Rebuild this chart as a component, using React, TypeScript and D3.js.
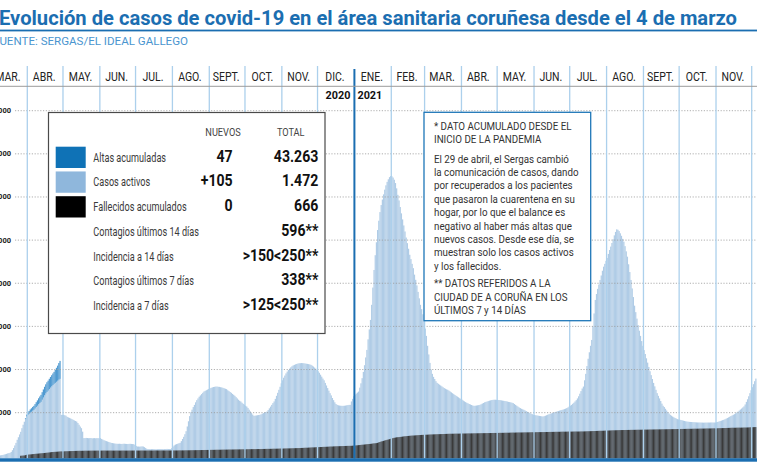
import React from 'react';
import * as d3 from 'd3';

const W = 757;
const H = 463;
const START = Date.UTC(2020, 2, 4); // 4 de marzo de 2020

// Casos activos diarios (desde el 4 de marzo de 2020)
const activos = [
  0,0,2,4,6,10,15,20,28,36,
  45,55,62,69,90,130,180,240,300,371,
  430,495,556,640,720,790,850,910,950,975,
  1000,1020,1045,1065,1095,1130,1160,1195,1225,1251,
  1300,1350,1400,1445,1480,1510,1545,1580,1610,1640,
  1668,1690,1715,1740,1765,1783,950,945,950,940,
  930,903,890,880,865,850,835,820,808,794,
  760,720,678,640,560,410,410,415,412,408,
  410,412,405,408,410,406,410,408,405,410,
  390,375,360,350,340,331,320,310,300,295,
  290,285,280,278,278,280,276,275,278,280,
  277,275,274,276,278,275,272,270,250,230,
  215,215,212,215,218,215,200,180,160,155,
  152,150,155,158,155,150,148,152,155,158,
  155,152,150,155,158,160,158,155,155,180,
  215,240,260,270,280,290,301,340,390,440,
  500,570,680,800,920,1010,1070,1130,1180,1240,
  1290,1330,1370,1400,1430,1460,1489,1505,1520,1535,
  1550,1565,1575,1585,1595,1600,1605,1605,1600,1598,
  1590,1585,1575,1565,1555,1545,1520,1500,1480,1460,
  1435,1413,1390,1360,1330,1300,1275,1258,1230,1205,
  1185,1160,1142,1110,1070,1030,990,955,926,930,
  935,940,945,950,960,975,990,1005,1015,1026,
  1060,1100,1140,1180,1221,1260,1320,1390,1460,1530,
  1600,1680,1750,1810,1860,1910,1952,1990,2020,2050,
  2075,2095,2108,2120,2130,2138,2145,2147,2150,2148,
  2145,2140,2135,2131,2125,2118,2108,2090,2070,2045,
  2020,1992,1960,1925,1880,1835,1790,1750,1690,1630,
  1570,1510,1452,1400,1340,1290,1240,1200,1181,1170,
  1165,1160,1158,1158,1160,1165,1170,1175,1180,1181,
  1260,1320,1380,1413,1440,1465,1489,1580,1680,1800,
  1945,2100,2280,2455,2700,2930,3150,3500,3900,4308,
  4650,4950,5234,5450,5650,5813,5940,6060,6170,6270,
  6350,6410,6460,6485,6480,6450,6400,6323,6200,6050,
  5920,5767,5620,5480,5340,5200,5060,4930,4800,4660,
  4560,4450,4350,4200,4080,3950,3800,3650,3500,3400,
  3280,3120,2950,2780,2550,2350,2154,2000,1900,1830,
  1780,1730,1691,1670,1650,1630,1610,1590,1570,1555,
  1540,1529,1510,1490,1470,1450,1430,1410,1390,1373,
  1355,1335,1318,1300,1280,1262,1245,1228,1215,1200,
  1190,1178,1165,1158,1160,1165,1170,1175,1181,1195,
  1210,1225,1240,1250,1258,1268,1278,1285,1292,1297,
  1300,1300,1298,1295,1292,1290,1285,1280,1275,1270,
  1265,1258,1250,1245,1238,1230,1221,1200,1180,1160,
  1140,1120,1105,1090,1078,1065,1050,1035,1020,1005,
  990,978,965,950,945,940,935,930,925,920,
  915,910,918,928,940,952,962,972,982,993,
  1003,1012,1020,1030,1040,1048,1056,1064,1072,1082,
  1093,1105,1120,1140,1160,1180,1205,1230,1260,1290,
  1330,1380,1440,1500,1560,1605,1750,1900,2080,2250,
  2400,2550,2686,3000,3300,3613,3750,3870,3970,4076,
  4180,4290,4384,4450,4520,4586,4680,4770,4850,4933,
  5020,5110,5190,5250,5240,5210,5158,5100,5030,4963,
  4860,4740,4616,4440,4260,4076,3880,3680,3480,3330,
  3180,3030,2900,2780,2660,2550,2450,2360,2260,2160,
  2060,1960,1870,1780,1690,1610,1530,1452,1390,1330,
  1270,1210,1160,1130,1090,1050,1010,980,950,930,
  910,893,878,864,850,843,836,829,822,815,
  808,800,794,790,787,785,783,781,779,777,
  775,773,772,771,770,770,769,769,770,770,
  771,771,772,772,771,771,771,778,786,795,
  805,815,825,834,846,860,875,890,905,920,
  935,950,965,985,1005,1025,1048,1072,1095,1120,
  1145,1190,1250,1310,1380,1452,1520,1590,1660,1730,
  1790,
];

// Fallecidos acumulados
const fallecidos = [
  0,0,0,0,0,0,0,0,0,0,
  0,0,0,0,0,0,0,0,0,0,
  0,0,1,3,5,9,15,23,26,29,
  32,35,38,41,44,47,50,52,55,57,
  60,62,65,68,71,74,78,82,86,88,
  90,92,94,96,98,100,101,102,103,104,
  105,106,107,108,109,110,111,112,113,114,
  115,115,116,116,117,117,118,118,118,119,
  119,119,119,120,120,120,120,120,120,121,
  121,121,121,121,121,121,121,121,121,121,
  121,121,121,121,121,121,121,121,121,121,
  121,121,121,121,121,122,122,122,122,122,
  122,122,122,122,122,122,122,122,122,122,
  122,122,122,122,122,123,123,123,123,123,
  123,123,123,123,123,123,123,123,123,123,
  123,123,124,124,124,125,125,125,126,126,
  126,127,127,128,128,129,129,130,130,131,
  131,132,132,133,133,134,134,135,135,136,
  136,137,137,138,138,139,139,140,140,141,
  141,142,142,143,143,144,144,145,145,145,
  146,146,147,147,148,148,149,149,150,150,
  151,151,152,152,153,153,154,154,155,155,
  156,156,157,157,158,158,159,159,160,160,
  161,161,162,162,163,164,164,165,166,166,
  167,168,168,169,170,170,171,172,172,173,
  174,175,176,177,178,179,180,181,182,183,
  184,186,187,188,190,191,192,194,195,196,
  198,199,200,202,203,204,206,207,208,210,
  211,212,214,215,216,218,219,220,221,222,
  223,224,225,226,227,228,229,230,230,231,
  232,234,236,238,241,244,247,250,253,256,
  259,262,265,268,271,274,277,280,284,288,
  291,294,300,310,320,331,338,346,354,362,
  370,378,386,394,402,410,417,423,428,431,
  433,437,441,445,449,452,455,458,461,464,
  466,468,470,472,474,476,478,480,482,484,
  485,486,488,489,490,492,493,494,496,497,
  498,499,500,501,502,503,504,505,506,507,
  508,509,510,511,511,512,512,513,513,514,
  514,515,515,516,516,517,517,518,518,519,
  519,520,520,521,521,522,522,523,523,524,
  524,525,525,526,526,527,527,528,528,529,
  529,530,530,531,531,532,532,533,533,534,
  534,535,535,536,537,537,538,538,539,540,
  540,540,541,541,542,542,543,543,544,544,
  545,545,546,546,547,547,548,548,549,549,
  550,550,551,551,552,552,553,553,554,554,
  555,555,556,556,557,557,558,558,559,559,
  560,560,560,561,561,561,562,562,562,563,
  563,563,563,564,564,565,566,567,568,569,
  570,571,572,573,574,575,576,577,578,579,
  580,581,582,583,584,585,586,587,588,589,
  590,591,592,593,594,595,596,597,597,598,
  598,599,599,600,600,601,601,602,602,603,
  603,604,604,605,605,606,606,607,607,608,
  608,609,609,610,610,611,611,612,612,613,
  613,614,614,615,615,616,616,617,617,618,
  618,619,619,620,620,621,621,622,622,623,
  623,624,624,625,625,626,626,627,627,628,
  628,629,629,630,630,631,631,632,632,633,
  633,634,634,635,635,636,636,637,638,639,
  640,641,642,643,644,645,646,647,648,649,
  650,650,651,651,652,652,653,653,654,654,
  655,655,656,657,658,659,661,662,664,665,
  666,
];

// Altas acumuladas (solo hasta el 28 de abril de 2020)
const altas = [
  0,0,0,0,0,0,0,0,0,0,
  0,0,0,0,0,0,0,0,0,0,
  0,0,0,0,0,0,20,46,55,65,
  75,82,88,93,103,113,125,138,150,162,
  175,188,200,212,225,232,240,248,258,268,
  278,300,325,350,385,417,
];

const monthNames = ['ENE.', 'FEB.', 'MAR.', 'ABR.', 'MAY.', 'JUN.', 'JUL.', 'AGO.', 'SEPT.', 'OCT.', 'NOV.', 'DIC.'];
const yTicks = [1000, 2000, 3000, 4000, 5000, 6000, 7000, 8000];

const legendLabels = [
  'Altas acumuladas',
  'Casos activos',
  'Fallecidos acumulados',
  'Contagios últimos 14 días',
  'Incidencia a 14 días',
  'Contagios últimos 7 días',
  'Incidencia a 7 días',
];
const legendNuevos = ['47', '+105', '0', '', '', '', ''];
const legendTotals = ['43.263', '1.472', '666', '596**', '>150<250**', '338**', '>125<250**'];
const legendSwatches = ['#0f72b6', '#8fb7dc', '#000000'];

const noteLines = [
  '* DATO ACUMULADO DESDE EL',
  'INICIO DE LA PANDEMIA',
  'El 29 de abril, el Sergas cambió',
  'la comunicación de casos, dando',
  'por recuperados a los pacientes',
  'que pasaron la cuarentena en su',
  'hogar, por lo que el balance es',
  'negativo al haber más altas que',
  'nuevos casos. Desde ese día, se',
  'muestran solo los casos activos',
  'y los fallecidos.',
  '** DATOS REFERIDOS A LA',
  'CIUDAD DE A CORUÑA EN LOS',
  'ÚLTIMOS 7 y 14 DÍAS',
];
const noteBaselines = [130, 143.4, 162.5, 175.9, 189.3, 202.7, 216.1, 229.5, 242.9, 256.3, 269.7, 287.3, 300.7, 314.1];

const TITLE = 'Evolución de casos de covid-19 en el área sanitaria coruñesa desde el 4 de marzo';
const SOURCE = 'FUENTE: SERGAS/EL IDEAL GALLEGO';

const FONT = 'Roboto, "Noto Sans", sans-serif';

function CT(props: any) {
  const { x, y, sx = 0.82, children, ...rest } = props;
  return (
    <text transform={`translate(${x},${y}) scale(${sx},1)`} fontFamily={FONT} {...rest}>
      {children}
    </text>
  );
}

const dayDate = (i: number) => new Date(START + i * 86400000);

export default function App() {
  const x = d3
    .scaleUtc()
    .domain([new Date(Date.UTC(2020, 3, 1)), new Date(Date.UTC(2021, 11, 1))])
    .range([27.3, 751.7]);
  const y = d3.scaleLinear().domain([0, 8000]).range([455.8, 110.7]);
  const base = 458.5;
  const dw = x(dayDate(1)) - x(dayDate(0));

  const monthStarts = d3.utcMonth.range(new Date(Date.UTC(2020, 2, 1)), new Date(Date.UTC(2022, 0, 1)));
  const monthLines = monthStarts.filter((m) => {
    const px = x(m);
    return px > 0 && px < W && !(m.getUTCFullYear() === 2021 && m.getUTCMonth() === 0);
  });
  const janLine = x(new Date(Date.UTC(2021, 0, 1)));

  const labels = monthStarts
    .map((m) => {
      const next = d3.utcMonth.offset(m, 1);
      const cx = (x(m) + x(next)) / 2;
      return { cx, name: monthNames[m.getUTCMonth()] };
    })
    .filter((d) => d.cx > -5 && d.cx < W - 5);

  const legX = 48.5, legY = 112.5, legW = 276.5, legH = 221;
  const rowBase = (i: number) => 161.5 + i * 24.75;

  return (
    <svg
      width={W}
      height={H}
      viewBox={`0 0 ${W} ${H}`}
      style={{ position: 'absolute', left: 0, top: 0, background: '#fff', display: 'block' }}
    >
      <rect x={0} y={0} width={W} height={H} fill="#fff" />

      {/* Title */}
      <text
        x={-1}
        y={25}
        fontFamily={FONT}
        fontWeight={700}
        fontSize={21}
        fill="#1b6eb1"
        textLength={738}
        lengthAdjust="spacingAndGlyphs"
      >
        {TITLE}
      </text>
      <rect x={0} y={29.6} width={W} height={1.8} fill="#1b6eb1" />
      <text
        x={-7}
        y={44.5}
        fontFamily={FONT}
        fontSize={11.5}
        fill="#4a95cf"
        textLength={195}
        lengthAdjust="spacingAndGlyphs"
      >
        {SOURCE}
      </text>

      {/* Bars: casos activos */}
      <g>
        {activos.map((v, i) => {
          const px = x(dayDate(i));
          if (px + dw < 0 || px > W) return null;
          return (
            <rect key={'a' + i} x={px} y={y(v)} width={dw + 0.05} height={Math.max(0, base - y(v))} fill="#b0cce6" />
          );
        })}
        {altas.map((v, i) => {
          if (v <= 0) return null;
          const px = x(dayDate(i));
          const top = y(activos[i] + v);
          return (
            <rect key={'h' + i} x={px} y={top} width={dw + 0.05} height={y(activos[i]) - top} fill="#4f9ad1" />
          );
        })}
        {fallecidos.map((v, i) => {
          const px = x(dayDate(i));
          if (px + dw < 0 || px > W || v <= 0) return null;
          return (
            <rect key={'f' + i} x={px} y={y(v)} width={dw * 0.9} height={Math.max(0, base - y(v))} fill="#3a3a3a" />
          );
        })}
      </g>

      {/* Grid lines */}
      <g>
        {yTicks.map((t) => (
          <g key={t}>
            <line
              x1={15}
              x2={W}
              y1={y(t)}
              y2={y(t)}
              stroke="#9a9a9a"
              strokeWidth={0.8}
              strokeDasharray="1.2,1.6"
            />
            <text
              x={11}
              y={y(t) + 2.5}
              textAnchor="end"
              fontFamily={FONT}
              fontWeight={700}
              fontSize={7.5}
              fill="#222"
            >
              {d3.format(',')(t).replace(',', '.')}
            </text>
          </g>
        ))}
      </g>

      {/* Month lines */}
      <g>
        {monthLines.map((m, i) => (
          <line key={i} x1={x(m)} x2={x(m)} y1={66} y2={base} stroke="#acd0ec" strokeWidth={1.3} />
        ))}
        <line x1={janLine} x2={janLine} y1={69} y2={base} stroke="#1b6eb1" strokeWidth={2} />
      </g>

      {/* header row */}
      <line x1={0} x2={W} y1={86.3} y2={86.3} stroke="#9c9c9c" strokeWidth={1} />
      {labels.map((d, i) => (
        <CT key={i} x={d.cx - 1} y={80.7} sx={0.82} fontSize={12.8} fill="#222" textAnchor="middle">
          {d.name}
        </CT>
      ))}
      <CT x={janLine - 4} y={99} sx={0.92} fontSize={11.8} fontWeight={700} fill="#111" textAnchor="end">
        2020
      </CT>
      <CT x={janLine + 3} y={99} sx={0.92} fontSize={11.8} fontWeight={700} fill="#111" textAnchor="start">
        2021
      </CT>

      {/* bottom axis bar */}
      <rect x={0} y={458.3} width={W} height={3.4} fill="#1b6eb1" />

      {/* Legend box */}
      <rect x={legX} y={legY} width={legW} height={legH} fill="#fff" stroke="#4a4a4a" strokeWidth={1.2} />
      <CT x={223} y={136} sx={0.8} fontSize={11.5} fill="#444" textAnchor="middle">
        NUEVOS
      </CT>
      <CT x={290.7} y={136} sx={0.8} fontSize={11.5} fill="#444" textAnchor="middle">
        TOTAL
      </CT>
      {legendLabels.map((lab, i) => (
        <g key={lab}>
          {i < legendSwatches.length && (
            <rect x={55.7} y={rowBase(i) - 14.8} width={30} height={21.3} fill={legendSwatches[i]} />
          )}
          <CT x={93.3} y={rowBase(i)} sx={0.76} fontSize={12} fill="#3a3a3a">
            {lab}
          </CT>
          {legendNuevos[i] && (
            <CT x={232.7} y={rowBase(i)} sx={0.88} fontSize={16} fontWeight={700} fill="#111" textAnchor="end">
              {legendNuevos[i]}
            </CT>
          )}
          <CT x={318.3} y={rowBase(i)} sx={0.88} fontSize={16} fontWeight={700} fill="#111" textAnchor="end">
            {legendTotals[i]}
          </CT>
        </g>
      ))}

      {/* Note box */}
      <rect x={424} y={112.3} width={166.7} height={208.4} fill="#fff" stroke="#1f77b8" strokeWidth={1.3} />
      {noteLines.map((l, i) => (
        <CT key={i} x={434} y={noteBaselines[i]} sx={0.85} fontSize={11.5} fill="#333">
          {l}
        </CT>
      ))}
    </svg>
  );
}
